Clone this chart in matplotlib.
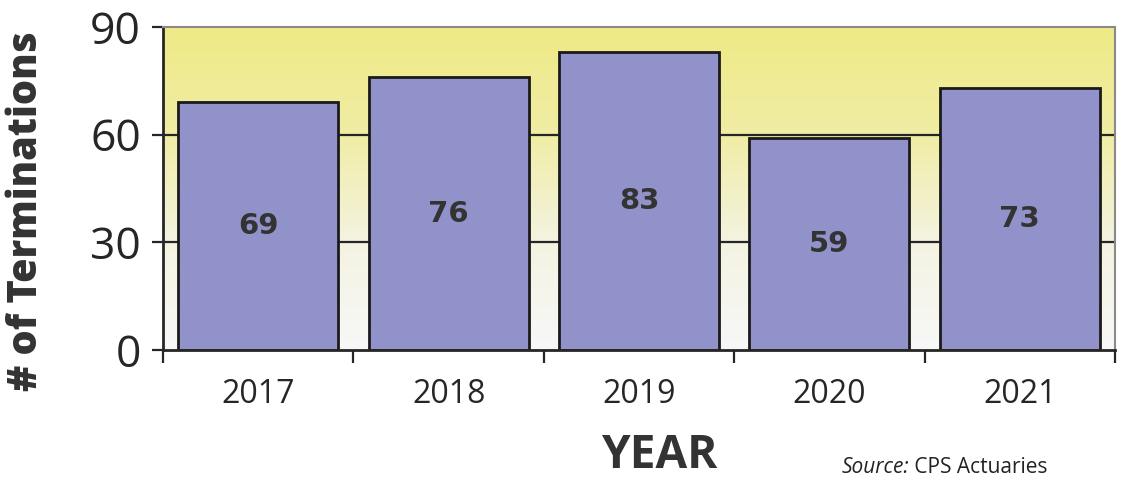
import numpy as np
import matplotlib
matplotlib.use('Agg')
import matplotlib.pyplot as plt
from matplotlib.colors import LinearSegmentedColormap

years = ['2017', '2018', '2019', '2020', '2021']
terminations = [69, 76, 83, 59, 73]
y_ticks = [0, 30, 60, 90]

BAR = '#9292ca'
INK = '#262626'

fig = plt.figure(figsize=(11.21, 4.8), dpi=100)
fig.patch.set_facecolor('white')
ax = fig.add_axes([0.1454, 0.2708, 0.8493, 0.6729])

x = np.arange(len(years))
ax.set_xlim(-0.5, len(years) - 0.5)
ax.set_ylim(0, 90)

# yellow-to-white background
bg = LinearSegmentedColormap.from_list('bg', [
    (0.0, '#f7f8f8'), (0.33, '#f4f3e2'), (0.66, '#f0eda6'),
    (1.0, '#eeea86')])
grad = np.linspace(0, 1, 256).reshape(-1, 1)
ax.imshow(grad, cmap=bg, aspect='auto', origin='lower',
          extent=[-0.5, len(years) - 0.5, 0, 90], zorder=0)

for v in (30, 60):
    ax.axhline(v, color=INK, lw=1.6, zorder=1)

bars = ax.bar(x, terminations, width=0.84, color=BAR,
              edgecolor='#1a1a1a', linewidth=2, zorder=2)
for xi, v in zip(x, terminations):
    ax.text(xi, v / 2, str(v), ha='center', va='center', fontsize=21,
            fontweight='bold', color='#333333', family='DejaVu Sans', zorder=3)

for s in ('top', 'right'):
    ax.spines[s].set_color('#8a8a8a')
    ax.spines[s].set_linewidth(1.5)
for s in ('left', 'bottom'):
    ax.spines[s].set_color(INK)
    ax.spines[s].set_linewidth(2)

ax.set_yticks(y_ticks)
ax.set_yticklabels([str(t) for t in y_ticks], fontsize=32, color=INK,
                   family='Open Sans')
ax.tick_params(axis='y', length=8, width=1.6, color=INK, pad=8)

ax.set_xticks(np.arange(len(years) + 1) - 0.5)
ax.set_xticklabels([])
ax.tick_params(axis='x', which='major', length=9, width=1.6, color=INK)
ax.set_xticks(x, minor=True)
ax.set_xticklabels(years, minor=True, fontsize=23, color=INK, family='Open Sans')
ax.tick_params(axis='x', which='minor', length=0, pad=20)

fig.text(0.024, 0.56, '# of Terminations', rotation=90, ha='center',
         va='center', fontsize=28.5, fontweight='heavy', color='#333333',
         family='Open Sans')
fig.text(0.589, 0.025, 'YEAR', ha='center', va='baseline', fontsize=33,
         fontweight='bold', color='#333333', family='Open Sans')
src = fig.text(0.751, 0.014, 'Source:', ha='left', va='baseline', fontsize=15,
               color='#222222', family='Open Sans', style='italic')
ax.annotate(' CPS Actuaries', xy=(1, 0), xycoords=src, ha='left', va='bottom',
            fontsize=15, color='#222222', family='Open Sans',
            annotation_clip=False)

fig.savefig('out.png', dpi=100)
